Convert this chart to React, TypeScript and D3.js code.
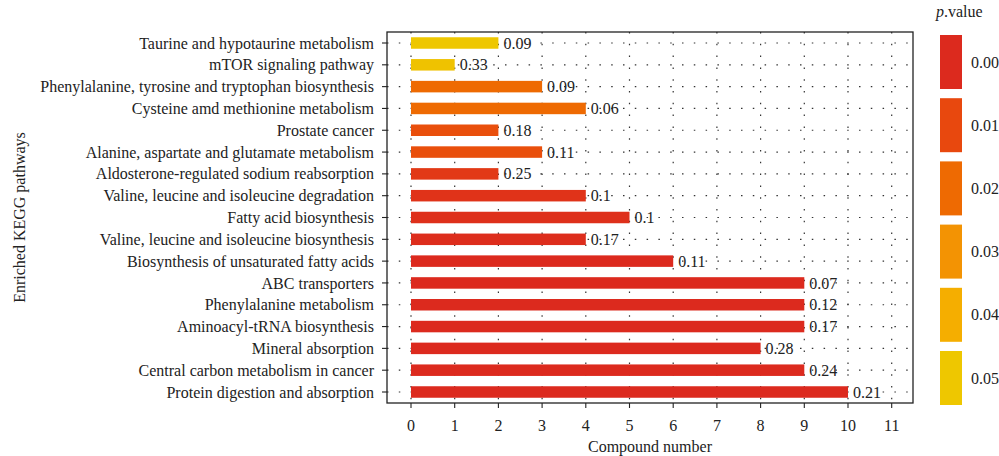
import React from "react";
import * as d3 from "d3";

// KEGG pathways, top to bottom
const pathways = [
  "Taurine and hypotaurine metabolism",
  "mTOR signaling pathway",
  "Phenylalanine, tyrosine and tryptophan biosynthesis",
  "Cysteine amd methionine metabolism",
  "Prostate cancer",
  "Alanine, aspartate and glutamate metabolism",
  "Aldosterone-regulated sodium reabsorption",
  "Valine, leucine and isoleucine degradation",
  "Fatty acid biosynthesis",
  "Valine, leucine and isoleucine biosynthesis",
  "Biosynthesis of unsaturated fatty acids",
  "ABC transporters",
  "Phenylalanine metabolism",
  "Aminoacyl-tRNA biosynthesis",
  "Mineral absorption",
  "Central carbon metabolism in cancer",
  "Protein digestion and absorption",
];

// number of compounds mapped to each pathway
const compoundCounts = [2, 1, 3, 4, 2, 3, 2, 4, 5, 4, 6, 9, 9, 9, 8, 9, 10];

// value printed at the end of each bar
const barLabels = [
  "0.09", "0.33", "0.09", "0.06", "0.18", "0.11", "0.25", "0.1", "0.1",
  "0.17", "0.11", "0.07", "0.12", "0.17", "0.28", "0.24", "0.21",
];

// p.value driving the fill colour
const pValues = [
  0.05, 0.048, 0.02, 0.02, 0.012, 0.012, 0.005, 0.003, 0.002, 0.001,
  0, 0, 0, 0, 0, 0, 0,
];

// colour legend
const legendValues = [0, 0.01, 0.02, 0.03, 0.04, 0.05];
const legendLabels = ["0.00", "0.01", "0.02", "0.03", "0.04", "0.05"];
const legendColors = ["#dc2a1e", "#e8480e", "#ee6a02", "#f39303", "#f5ae00", "#eec700"];

const xTicks = d3.range(0, 12);

const FONT = "'Liberation Serif', 'Times New Roman', serif";
const FS = 16;

export default function App() {
  const width = 999;
  const height = 456;
  const frame = { left: 387, right: 913, top: 32, bottom: 403 };

  const x = d3.scaleLinear().domain([0, 10]).range([411, 848]);
  const y = d3
    .scalePoint<string>()
    .domain(pathways)
    .range([43, 392]);
  const color = d3
    .scaleLinear<string>()
    .domain(legendValues)
    .range(legendColors)
    .clamp(true);

  const barH = 11.5;
  const legendY = d3.scaleLinear().domain([0, 1]).range([35, 98.2]);

  return (
    <svg
      width={width}
      height={height}
      style={{ position: "absolute", left: 0, top: 0, background: "#fff" }}
      fontFamily={FONT}
    >
      {/* dotted grid */}
      <g stroke="#333" strokeWidth={1.2} strokeDasharray="1.5,10.3">
        {xTicks.map((t) => (
          <line key={"gx" + t} x1={x(t)} x2={x(t)} y1={frame.top} y2={frame.bottom} />
        ))}
        {pathways.map((p) => (
          <line key={"gy" + p} x1={frame.left} x2={frame.right} y1={y(p)} y2={y(p)} />
        ))}
      </g>

      {/* bars */}
      {pathways.map((p, i) => (
        <rect
          key={"b" + p}
          x={x(0)}
          y={(y(p) as number) - barH / 2}
          width={x(compoundCounts[i]) - x(0)}
          height={barH}
          fill={color(pValues[i])}
        />
      ))}

      {/* bar labels */}
      {pathways.map((p, i) => (
        <text
          key={"l" + p}
          x={x(compoundCounts[i]) + 5}
          y={y(p)}
          dy="0.35em"
          fontSize={FS}
          fill="#222"
        >
          {barLabels[i]}
        </text>
      ))}

      {/* frame */}
      <rect
        x={frame.left}
        y={frame.top}
        width={frame.right - frame.left}
        height={frame.bottom - frame.top}
        fill="none"
        stroke="#222"
        strokeWidth={1.3}
      />

      {/* x axis */}
      {xTicks.map((t) => (
        <g key={"xt" + t}>
          <line x1={x(t)} x2={x(t)} y1={frame.bottom} y2={frame.bottom + 5} stroke="#222" strokeWidth={1.1} />
          <text x={x(t)} y={frame.bottom + 22} dy="0.35em" textAnchor="middle" fontSize={FS} fill="#222">
            {t}
          </text>
        </g>
      ))}
      <text x={(frame.left + frame.right) / 2} y={446} dy="0.35em" textAnchor="middle" fontSize={FS} fill="#222">
        Compound number
      </text>

      {/* y axis */}
      {pathways.map((p) => (
        <g key={"yt" + p}>
          <line x1={frame.left - 5} x2={frame.left} y1={y(p)} y2={y(p)} stroke="#222" strokeWidth={1.1} />
          <text x={frame.left - 13} y={y(p)} dy="0.35em" textAnchor="end" fontSize={FS} fill="#222">
            {p}
          </text>
        </g>
      ))}
      <text
        transform={`translate(19, ${(frame.top + frame.bottom) / 2}) rotate(-90)`}
        dy="0.35em"
        textAnchor="middle"
        fontSize={FS}
        fill="#222"
      >
        Enriched KEGG pathways
      </text>

      {/* legend */}
      <text x={936} y={17} fontSize={FS} fill="#222">
        <tspan fontStyle="italic">p</tspan>.value
      </text>
      {legendValues.map((v, i) => (
        <g key={"lg" + i}>
          <rect x={940} y={legendY(i)} width={22} height={54} fill={legendColors[i]} />
          <text x={971} y={legendY(i) + 27} dy="0.35em" fontSize={FS} fill="#222">
            {legendLabels[i]}
          </text>
        </g>
      ))}
    </svg>
  );
}
